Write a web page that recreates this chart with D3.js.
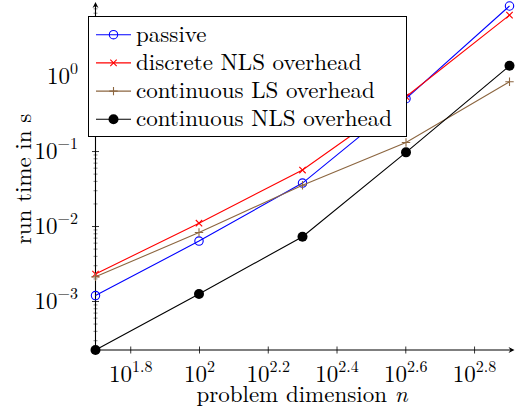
<!DOCTYPE html>
<html>
<head>
<meta charset="utf-8">
<script src="https://cdn.jsdelivr.net/npm/d3@7"></script>
<style>
	body { margin: 0; background: #fff; }
</style>
</head>
<body>
<svg id="chart"></svg>
<script>
	// problem dimension n
	var dims = [50, 100, 200, 400, 800];

	// run time in s, per series
	var passive = [1.18e-3, 6.3e-3, 0.0374, 0.50, 8.6];
	var discreteNLS = [2.29e-3, 0.0109, 0.0558, 0.53, 6.5];
	var continuousLS = [2.1e-3, 8.2e-3, 0.035, 0.13, 0.84];
	var continuousNLS = [2.22e-4, 1.24e-3, 7.2e-3, 0.096, 1.37];

	var seriesNames = ["passive", "discrete NLS overhead", "continuous LS overhead", "continuous NLS overhead"];

	// tick exponents
	var xTickExps = [1.8, 2, 2.2, 2.4, 2.6, 2.8];
	var yTickExps = [-3, -2, -1, 0];

(function() {
	var FONT = "Latin Modern Roman";
	var FS = 23, SUP = 16;
	var width = 518, height = 412;
	var mLeft = 95.5, mRight = 509.5, mTop = 6, mBottom = 350;

	var svg = d3.select("#chart")
		.attr("width", width)
		.attr("height", height);

	var allY = passive.concat(discreteNLS, continuousLS, continuousNLS);

	var x = d3.scaleLog()
		.domain(d3.extent(dims))
		.range([mLeft, mRight]);

	var y = d3.scaleLog()
		.domain(d3.extent(allY))
		.range([mBottom, mTop]);

	var series = [
		{ name: seriesNames[0], values: passive, color: "#0000ff", mark: "circle" },
		{ name: seriesNames[1], values: discreteNLS, color: "#ff0000", mark: "cross" },
		{ name: seriesNames[2], values: continuousLS, color: "#8c6640", mark: "plus" },
		{ name: seriesNames[3], values: continuousNLS, color: "#000000", mark: "dot" }
	];

	//minor y ticks (2..9 in each decade)
	var minor = [];
	for (var k = -4; k <= 1; k++) {
		for (var m = 2; m <= 9; m++) {
			var v = m * Math.pow(10, k);
			if (v > y.domain()[0] && v < y.domain()[1]) minor.push(v);
		}
	}

	var yMinor = svg.append("g")
		.attr("transform", "translate(" + mLeft + ",0)")
		.call(d3.axisLeft(y).tickValues(minor).tickSize(2).tickFormat(""));
	yMinor.select(".domain").remove();
	yMinor.selectAll(".tick line")
		.attr("x1", -2).attr("x2", 2)
		.attr("stroke", "#555").attr("stroke-width", 0.7);

	//y major
	var yAxis = svg.append("g")
		.attr("transform", "translate(" + mLeft + ",0)")
		.call(d3.axisLeft(y)
			.tickValues(yTickExps.map(function(e) { return Math.pow(10, e); }))
			.tickSize(3.5)
			.tickPadding(14)
			.tickFormat(""));
	yAxis.select(".domain").remove();
	yAxis.selectAll(".tick line").attr("x1", -3.5).attr("x2", 3.5).attr("stroke-width", 0.8);
	yAxis.selectAll(".tick text")
		.attr("font-size", FS)
		.attr("text-anchor", "end")
		.attr("dy", "0.32em")
		.each(function(d, i) {
			var t = d3.select(this);
			t.append("tspan").text("10");
			t.append("tspan")
				.attr("font-size", SUP)
				.attr("dy", "-0.6em")
				.text(String(yTickExps[i]).replace("-", "\u2212"));
		});

	//x major
	var xAxis = svg.append("g")
		.attr("transform", "translate(0," + mBottom + ")")
		.call(d3.axisBottom(x)
			.tickValues(xTickExps.map(function(e) { return Math.pow(10, e); }))
			.tickSize(3.5)
			.tickPadding(22)
			.tickFormat(""));
	xAxis.select(".domain").remove();
	xAxis.selectAll(".tick line").attr("y1", -3.5).attr("y2", 3.5).attr("stroke-width", 0.8);
	xAxis.selectAll(".tick text")
		.attr("font-size", FS)
		.attr("text-anchor", "middle")
		.attr("dy", "0.28em")
		.each(function(d, i) {
			var t = d3.select(this);
			t.append("tspan").text("10");
			t.append("tspan")
				.attr("font-size", SUP)
				.attr("dy", "-0.6em")
				.text(String(xTickExps[i]));
		});

	//axis lines with arrows
	var axes = svg.append("g").attr("stroke", "#000").attr("stroke-width", 1.1);
	axes.append("line").attr("x1", mLeft).attr("x2", mRight + 2).attr("y1", mBottom).attr("y2", mBottom);
	axes.append("line").attr("x1", mLeft).attr("x2", mLeft).attr("y1", mBottom).attr("y2", mTop - 1);
	svg.append("path")
		.attr("d", "M" + (mRight + 5) + "," + mBottom + " L" + (mRight - 1) + "," + (mBottom - 3) +
			" L" + (mRight + 1) + "," + mBottom + " L" + (mRight - 1) + "," + (mBottom + 3) + "Z")
		.attr("fill", "#000");
	svg.append("path")
		.attr("d", "M" + mLeft + "," + (mTop - 4) + " L" + (mLeft - 3) + "," + (mTop + 2) +
			" L" + mLeft + "," + mTop + " L" + (mLeft + 3) + "," + (mTop + 2) + "Z")
		.attr("fill", "#000");

	//lines
	var line = d3.line()
		.x(function(d, i) { return x(dims[i]); })
		.y(function(d) { return y(d); });

	function drawMark(g, mark, color, cx, cy) {
		if (mark == "circle") {
			g.append("circle").attr("cx", cx).attr("cy", cy).attr("r", 4.2)
				.attr("fill", "none").attr("stroke", color).attr("stroke-width", 1.1);
		} else if (mark == "cross") {
			var s = 3.2;
			g.append("path")
				.attr("d", "M" + (cx - s) + "," + (cy - s) + "L" + (cx + s) + "," + (cy + s) +
					"M" + (cx - s) + "," + (cy + s) + "L" + (cx + s) + "," + (cy - s))
				.attr("stroke", color).attr("stroke-width", 1.1);
		} else if (mark == "plus") {
			var p = 4.2;
			g.append("path")
				.attr("d", "M" + (cx - p) + "," + cy + "L" + (cx + p) + "," + cy +
					"M" + cx + "," + (cy - p) + "L" + cx + "," + (cy + p))
				.attr("stroke", color).attr("stroke-width", 1.1);
		} else {
			g.append("circle").attr("cx", cx).attr("cy", cy).attr("r", 5)
				.attr("fill", color);
		}
	}

	series.forEach(function(s) {
		var g = svg.append("g");
		g.append("path")
			.datum(s.values)
			.attr("d", line)
			.attr("fill", "none")
			.attr("stroke", s.color)
			.attr("stroke-width", 1.1);
		s.values.forEach(function(v, i) {
			drawMark(g, s.mark, s.color, x(dims[i]), y(v));
		});
	});

	//axis titles
	var xt = svg.append("text")
		.attr("x", 302).attr("y", 402)
		.attr("font-size", FS)
		.attr("text-anchor", "middle");
	xt.append("tspan").text("problem dimension ");
	xt.append("tspan").attr("font-style", "italic").text("n");

	svg.append("text")
		.attr("transform", "translate(31,179) rotate(-90)")
		.attr("font-size", FS)
		.attr("text-anchor", "middle")
		.text("run time in s");

	//legend
	var legend = svg.append("g");
	legend.append("rect")
		.attr("x", 88.5).attr("y", 16.5)
		.attr("width", 318).attr("height", 120)
		.attr("fill", "#fff").attr("stroke", "#000").attr("stroke-width", 1);

	series.forEach(function(s, i) {
		var ly = 34.7 + 28.2 * i;
		legend.append("line")
			.attr("x1", 96).attr("x2", 131).attr("y1", ly).attr("y2", ly)
			.attr("stroke", s.color).attr("stroke-width", 1.1);
		drawMark(legend, s.mark, s.color, 113.5, ly);
		legend.append("text")
			.attr("x", 136).attr("y", ly + 7)
			.attr("font-size", FS)
			.text(s.name);
	});

	svg.selectAll("g").attr("font-family", null);
	svg.selectAll("text").style("font-family", FONT).attr("fill", "#000");
})();
</script>
</body>
</html>
